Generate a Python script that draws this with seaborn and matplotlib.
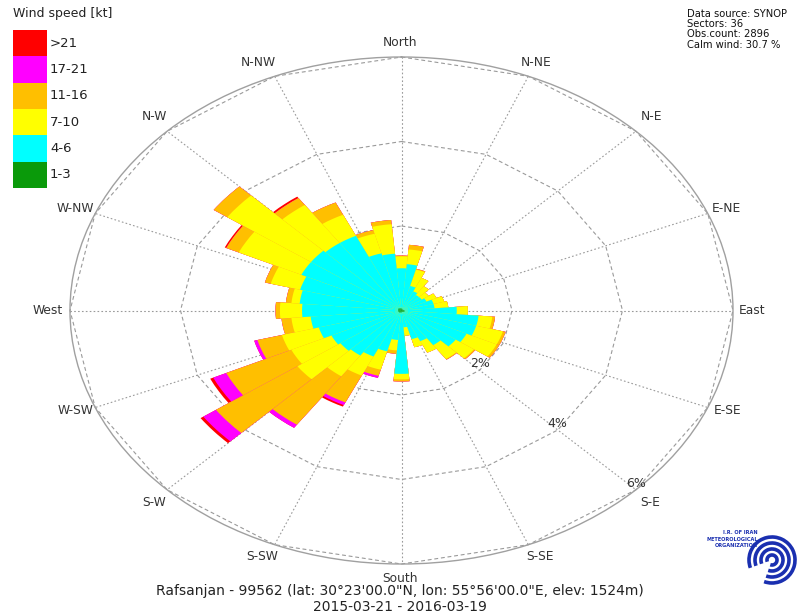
import numpy as np
import matplotlib
matplotlib.use("Agg")
import matplotlib.pyplot as plt
from matplotlib.patches import Rectangle, Arc
import seaborn as sns

# ---- data: frequency (%) per 10-degree sector, by wind-speed class ----
sectors = list(range(0, 360, 10))

speed_classes = ["1-3", "4-6", "7-10", "11-16", "17-21", ">21"]
class_colors = ["#0a9a0a", "#00ffff", "#ffff00", "#ffbf00", "#ff00ff", "#ff0000"]

freq_1_3 = [0.04, 0.05, 0.03, 0.03, 0.03, 0.03, 0.03, 0.04, 0.04, 0.05,
            0.06, 0.06, 0.05, 0.05, 0.04, 0.04, 0.03, 0.03, 0.05, 0.04,
            0.05, 0.05, 0.06, 0.06, 0.06, 0.06, 0.06, 0.06, 0.06, 0.06,
            0.07, 0.07, 0.06, 0.06, 0.05, 0.05]
freq_4_6 = [0.96, 1.05, 0.57, 0.47, 0.42, 0.42, 0.47, 0.56, 0.56, 0.95,
            1.34, 1.34, 1.25, 1.15, 0.96, 0.76, 0.67, 0.37, 1.45, 0.66,
            0.95, 1.15, 1.24, 1.29, 1.34, 1.49, 1.59, 1.74, 1.79, 1.84,
            1.93, 1.93, 1.89, 1.89, 1.35, 1.30]
freq_7_10 = [0.28, 0.35, 0.40, 0.35, 0.25, 0.15, 0.20, 0.20, 0.25, 0.20,
             0.25, 0.50, 0.60, 0.40, 0.40, 0.30, 0.20, 0.20, 0.13, 0.25,
             0.45, 0.50, 0.60, 0.95, 0.80, 0.69, 0.35, 0.40, 0.15, 0.55,
             1.25, 1.85, 1.10, 0.55, 0.48, 0.70]
freq_11_16 = [0.02, 0.11, 0.02, 0.00, 0.00, 0.00, 0.00, 0.00, 0.00, 0.00,
              0.05, 0.05, 0.05, 0.03, 0.02, 0.00, 0.00, 0.00, 0.05, 0.08,
              0.15, 0.70, 1.40, 1.80, 1.30, 0.46, 0.18, 0.08, 0.10, 0.11,
              0.25, 0.30, 0.20, 0.32, 0.09, 0.10]
freq_17_21 = [0.00, 0.00, 0.00, 0.00, 0.00, 0.00, 0.00, 0.00, 0.00, 0.00,
              0.00, 0.00, 0.00, 0.00, 0.00, 0.00, 0.00, 0.00, 0.00, 0.00,
              0.05, 0.07, 0.09, 0.28, 0.26, 0.06, 0.00, 0.00, 0.00, 0.00,
              0.00, 0.00, 0.00, 0.00, 0.00, 0.00]
freq_gt21 = [0.00, 0.00, 0.00, 0.00, 0.00, 0.00, 0.00, 0.00, 0.00, 0.00,
             0.00, 0.00, 0.00, 0.00, 0.00, 0.00, 0.00, 0.00, 0.00, 0.00,
             0.00, 0.04, 0.00, 0.06, 0.06, 0.00, 0.00, 0.00, 0.00, 0.00,
             0.03, 0.00, 0.04, 0.00, 0.00, 0.00]

direction_names = ["North", "N-NE", "N-E", "E-NE", "East", "E-SE", "S-E", "S-SE",
                   "South", "S-SW", "S-W", "W-SW", "West", "W-NW", "N-W", "N-NW"]
ring_values = [2, 4, 6]

info_lines = ["Data source: SYNOP", "Sectors: 36", "Obs.count: 2896", "Calm wind: 30.7 %"]
station_line = "Rafsanjan - 99562 (lat: 30\u00b023'00.0\"N, lon: 55\u00b056'00.0\"E, elev: 1524m)"
period_line = "2015-03-21 - 2016-03-19"

# ---- figure ----
sns.set_theme(style="white")
plt.rcParams["font.family"] = ["DejaVu Sans"]
palette = sns.color_palette(class_colors)

W, H = 799, 616
fig = plt.figure(figsize=(W / 100, H / 100), dpi=100)
fig.patch.set_facecolor("white")


def fx(x):
    return x / W


def fy(y):
    return 1 - y / H


RMAX = 6.0
ax = fig.add_axes([fx(70), fy(564), fx(733) - fx(70), fy(57) - fy(564)], projection="polar")
ax.set_aspect("auto")
ax.set_theta_zero_location("N")
ax.set_theta_direction(-1)
ax.set_ylim(0, RMAX)
ax.set_facecolor("white")

# stacked wind-rose wedges: each class is painted as a full wedge from the
# centre out to its cumulative total, fastest class first, slower ones on top
theta = np.deg2rad(sectors)
width = np.deg2rad(10)
series = [freq_1_3, freq_4_6, freq_7_10, freq_11_16, freq_17_21, freq_gt21]
cumulative = np.cumsum(np.array(series, dtype=float), axis=0)
for k in range(len(series) - 1, -1, -1):
    ax.bar(theta, cumulative[k], width=width, bottom=0, color=palette[k],
           edgecolor="none", linewidth=0, align="center", zorder=3 + (5 - k) * 0.01)

# grid: dotted spokes every 22.5 deg
spoke_angles = np.arange(0, 360, 22.5)
ax.set_xticks(np.deg2rad(spoke_angles))
ax.set_xticklabels([])
ax.set_yticks([])
ax.xaxis.grid(True, color="#9a9a9a", linestyle=(0, (1.5, 2.0)), linewidth=0.8, zorder=1)
ax.yaxis.grid(False)
ax.set_axisbelow(True)
ax.spines["polar"].set_color("#a0a0a0")
ax.spines["polar"].set_linewidth(1.0)
ax.tick_params(length=0)

# dashed rings drawn as 16-sided polygons joining the spokes
poly_ang = np.deg2rad(np.append(spoke_angles, spoke_angles[0]))
for rv in ring_values:
    frac = 0.5 * rv / RMAX
    ax.plot(0.5 + frac * np.sin(poly_ang), 0.5 + frac * np.cos(poly_ang),
            transform=ax.transAxes, color="#9a9a9a", linestyle=(0, (3.5, 2.5)),
            linewidth=0.8, zorder=1, clip_on=False)

# compass labels, positioned in figure pixels around the ellipse
label_px = {"North": (400, 42), "N-NE": (536, 62), "N-E": (651, 117),
            "E-NE": (726, 208), "East": (752, 311), "E-SE": (728, 410),
            "S-E": (650, 503), "S-SE": (540, 556), "South": (400, 578),
            "S-SW": (262, 556), "S-W": (154, 502), "W-SW": (76, 410),
            "West": (48, 311), "W-NW": (75, 208), "N-W": (154, 117),
            "N-NW": (258, 62)}
for name in direction_names:
    px, py = label_px[name]
    fig.text(fx(px), fy(py), name, ha="center", va="center",
             fontsize=8.8, color="#333333")

for rv in ring_values:
    ax.text(np.deg2rad(135), rv, f"{rv}%", ha="center", va="bottom",
            fontsize=9, color="#333333", zorder=6)

# ---- legend ----
fig.text(fx(13), fy(14), "Wind speed [kt]", fontsize=9, color="#222222",
         ha="left", va="center")
box_top, box_h = 30, 26.3
for i, (lab, col) in enumerate(zip(speed_classes[::-1], list(palette)[::-1])):
    y0 = box_top + i * box_h
    fig.add_artist(Rectangle((fx(13), fy(y0 + box_h)), fx(47) - fx(13),
                             fy(y0) - fy(y0 + box_h), transform=fig.transFigure,
                             facecolor=col, edgecolor="none"))
    fig.text(fx(50), fy(y0 + box_h / 2), lab, fontsize=9.5, color="#222222",
             ha="left", va="center")

# ---- info block ----
for i, line in enumerate(info_lines):
    fig.text(fx(687), fy(14 + i * 10.2), line, fontsize=7.2, color="#111111",
             ha="left", va="center")

fig.text(0.5, fy(591), station_line, fontsize=10.0, color="#222222",
         ha="center", va="center")
fig.text(0.5, fy(607), period_line, fontsize=10.0, color="#222222",
         ha="center", va="center")

# ---- organisation emblem ----
lax = fig.add_axes([fx(700), fy(592), fx(797) - fx(700), fy(518) - fy(592)])
lax.set_xlim(700, 797)
lax.set_ylim(592, 518)
lax.axis("off")
blue = "#1a2fb0"
for rad in [5, 11, 17, 23]:
    lax.add_patch(Arc((772, 560), 2 * rad, 2 * rad, theta1=-200, theta2=110,
                      color=blue, linewidth=2.6))
for i, line in enumerate(["I.R. OF IRAN", "METEOROLOGICAL", "ORGANIZATION"]):
    lax.text(758, 533 + i * 6.2, line, fontsize=3.6, color=blue,
             fontweight="bold", ha="right", va="center")

fig.savefig("out.png", dpi=100)
